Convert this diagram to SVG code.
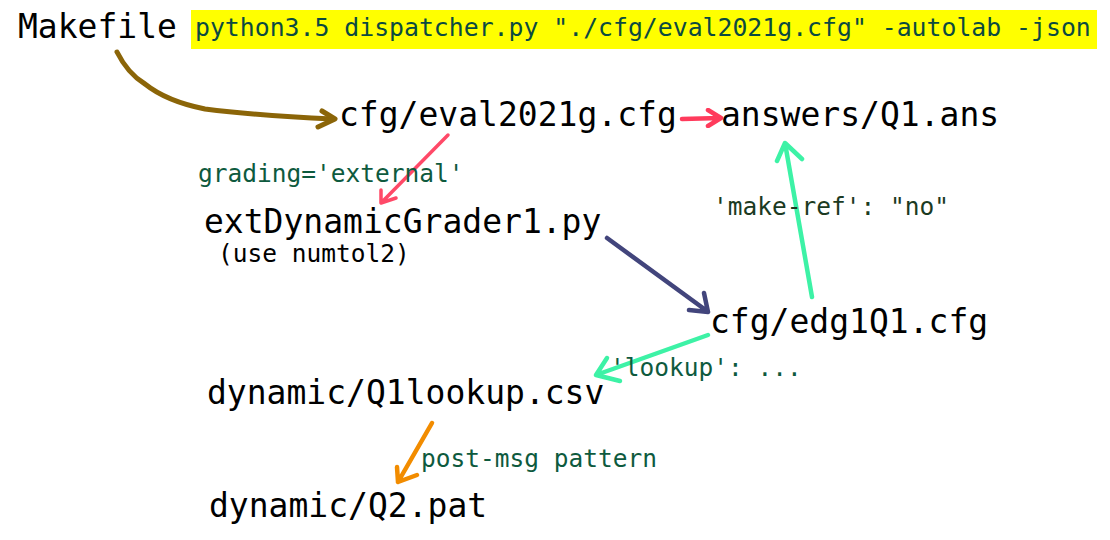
<svg xmlns="http://www.w3.org/2000/svg" width="1110" height="540" viewBox="0 0 1110 540">
<defs>
<filter id="soft" x="-10%" y="-10%" width="120%" height="120%"><feGaussianBlur stdDeviation="0.7"/></filter>
</defs>
<style>
text{font-family:"DejaVu Sans Mono","Liberation Mono",monospace;}
.node{font-size:33px;fill:#000;}
.lbl{font-size:24.5px;fill:#0e5a3e;}
.dark{fill:#1b3a22;}
.cmd{font-size:24.8px;fill:#0b4a40;}
.a{fill:none;stroke-linecap:round;stroke-linejoin:round;}
.brown{stroke:#8b6508;stroke-width:5;}
.red{stroke:#ff3a5c;stroke-width:4.5;filter:url(#soft);}
.red2{stroke:#ff4a68;stroke-width:3.5;filter:url(#soft);}
.navy{stroke:#42447c;stroke-width:4.5;filter:url(#soft);}
.green{stroke:#3ef2a6;stroke-width:4.5;filter:url(#soft);}
.orange{stroke:#f28c00;stroke-width:4.5;}
</style>
<rect x="191" y="10" width="906" height="39" fill="#ffff00"/>
<g id="makefile"><text class="node" x="18" y="38">Makefile</text></g>
<g id="command"><text class="cmd" x="195" y="36">python3.5 dispatcher.py "./cfg/eval2021g.cfg" -autolab -json</text></g>
<g id="eval2021g"><text class="node" x="339" y="126">cfg/eval2021g.cfg</text></g>
<g id="answers"><text class="node" x="721" y="126">answers/Q1.ans</text></g>
<g id="grader"><text class="node" x="204" y="233">extDynamicGrader1.py</text><text class="lbl" style="fill:#000" x="218" y="262">(use numtol2)</text></g>
<g id="edg1q1"><text class="node" x="710" y="333">cfg/edg1Q1.cfg</text></g>
<g id="lookupcsv"><text class="node" x="207" y="404">dynamic/Q1lookup.csv</text></g>
<g id="q2pat"><text class="node" x="209" y="517">dynamic/Q2.pat</text></g>
<g id="connectors">
<path class="a brown" d="M117,52 C122,62 130,75 145,84 C160,96 180,104 205,109 C245,114 290,117 333,119"/>
<path class="a brown" d="M322,111 L335,119 L318,127"/>
<path class="a red" d="M682,119 L720,118 M708,110 L721,118 L708,126"/>
<path class="a red2" d="M448,135 L381,203 M381,190 L381,203 L396,198"/>
<path class="a navy" d="M607,238 L707,311 M704,293 L708,312 L689,310"/>
<path class="a green" d="M812,297 L785,143 M777,161 L785,143 L802,159"/>
<path class="a green" d="M708,335 L596,375 M607,358 L596,375 L620,381"/>
<path class="a orange" d="M432,423 L398,482 M397,467 L398,482 L417,475"/>
<text class="lbl" x="198" y="182">grading='external'</text>
<text class="lbl dark" x="713" y="215">'make-ref': "no"</text>
<text class="lbl" x="610" y="376">'lookup': ...</text>
<text class="lbl" x="421" y="467">post-msg pattern</text>
</g>
</svg>
